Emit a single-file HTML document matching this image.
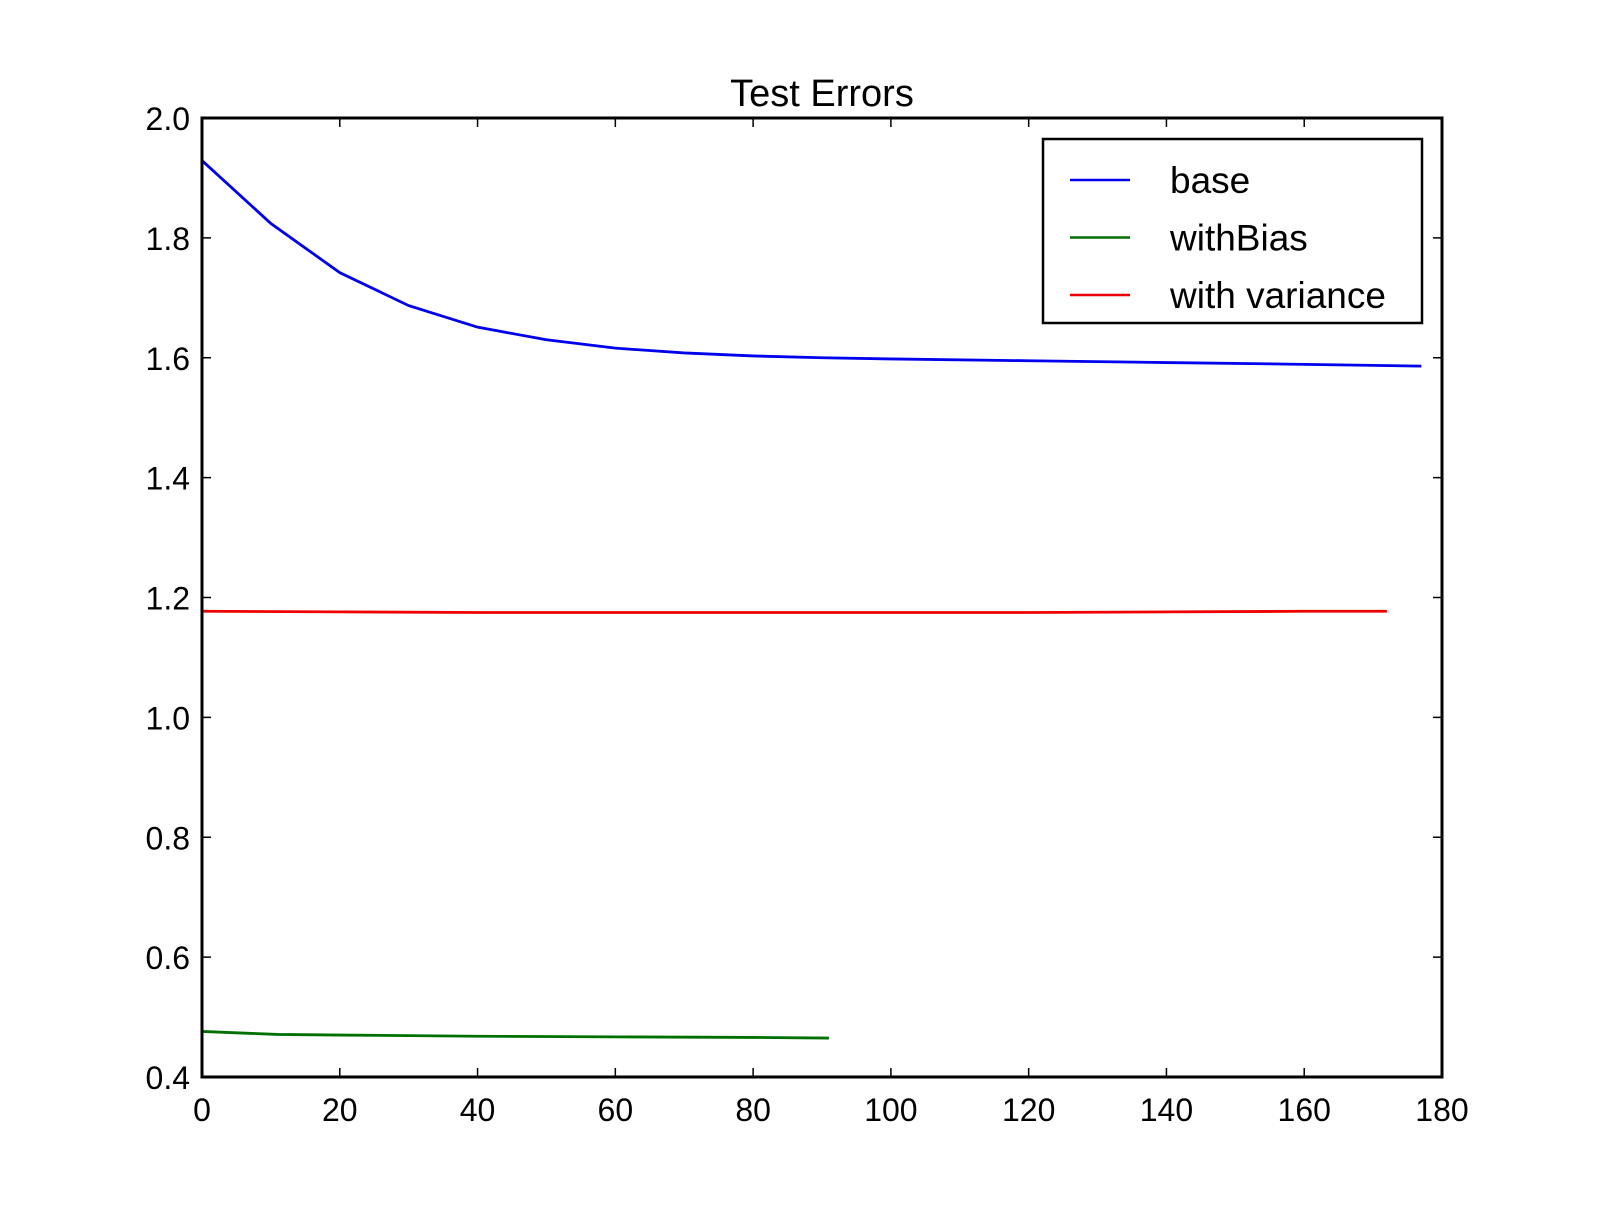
<!DOCTYPE html>
<html><head><meta charset="utf-8"><style>
html,body{margin:0;padding:0;background:#fff;}
svg text{font-family:"Liberation Sans",sans-serif;fill:#000;}
</style></head><body>
<svg id="chart" width="1600" height="1200" xmlns="http://www.w3.org/2000/svg">
<rect width="1600" height="1200" fill="#fff"/>
<text x="822" y="106" font-size="38" text-anchor="middle">Test Errors</text>
<g id="plot"></g>
</svg>
<script>
const xTicks = [0,20,40,60,80,100,120,140,160,180];
const yTicks = [0.4,0.6,0.8,1.0,1.2,1.4,1.6,1.8,2.0];
const baseX = [0,10,20,30,40,50,60,70,80,90,100,120,140,160,177];
const baseY = [1.929,1.824,1.742,1.687,1.651,1.630,1.616,1.608,1.603,1.600,1.598,1.595,1.592,1.589,1.586];
const biasX = [0,11,20,40,60,80,91];
const biasY = [0.476,0.471,0.470,0.468,0.467,0.466,0.465];
const varX = [0,20,40,60,80,100,120,140,160,172];
const varY = [1.177,1.176,1.175,1.175,1.175,1.175,1.175,1.176,1.177,1.177];
const L=202,R=1442,T=118,B=1077;
const sx=v=>L+(v-0)/(180-0)*(R-L);
const sy=v=>B-(v-0.4)/(2.0-0.4)*(B-T);
const g=document.getElementById('plot');
const NS='http://www.w3.org/2000/svg';
function mk(tag,attrs){const e=document.createElementNS(NS,tag);for(const k in attrs)e.setAttribute(k,attrs[k]);g.appendChild(e);return e;}
function line(xs,ys,color,name){
  const e=mk('polyline',{points:xs.map((x,i)=>sx(x)+','+sy(ys[i])).join(' '),fill:'none',stroke:color,'stroke-width':2.8});
  
  
}
line(baseX,baseY,'#0000ee','series-base');
line(biasX,biasY,'#007000','series-withbias');
line(varX,varY,'#ee0000','series-with-variance');
const frame=mk('rect',{x:L,y:T,width:R-L,height:B-T,fill:'none',stroke:'#000','stroke-width':3});


xTicks.forEach(t=>{
  const x=sx(t);
  mk('line',{x1:x,y1:B,x2:x,y2:B-9,stroke:'#000','stroke-width':1.5});
  mk('line',{x1:x,y1:T,x2:x,y2:T+9,stroke:'#000','stroke-width':1.5});
  const e=mk('text',{x:x,y:B+44,'font-size':32,'text-anchor':'middle'});
  e.textContent=t;
  
  
});
yTicks.forEach(t=>{
  const y=sy(t);
  mk('line',{x1:L,y1:y,x2:L+9,y2:y,stroke:'#000','stroke-width':1.5});
  mk('line',{x1:R,y1:y,x2:R-9,y2:y,stroke:'#000','stroke-width':1.5});
  const e=mk('text',{x:L-12,y:y+12,'font-size':32,'text-anchor':'end'});
  e.textContent=t.toFixed(1);
  
  
});
const lg=mk('rect',{x:1043,y:139,width:379,height:184,fill:'#fff',stroke:'#000','stroke-width':2.5});


const entries=[['base','#0000ee'],['withBias','#007000'],['with variance','#ee0000']];
entries.forEach((en,i)=>{
  const y=180+i*57.5;
  mk('line',{x1:1070,y1:y,x2:1130,y2:y,stroke:en[1],'stroke-width':2.5});
  const e=mk('text',{x:1170,y:y+13,'font-size':37});
  e.textContent=en[0];
  
  
});
</script>
</body></html>
